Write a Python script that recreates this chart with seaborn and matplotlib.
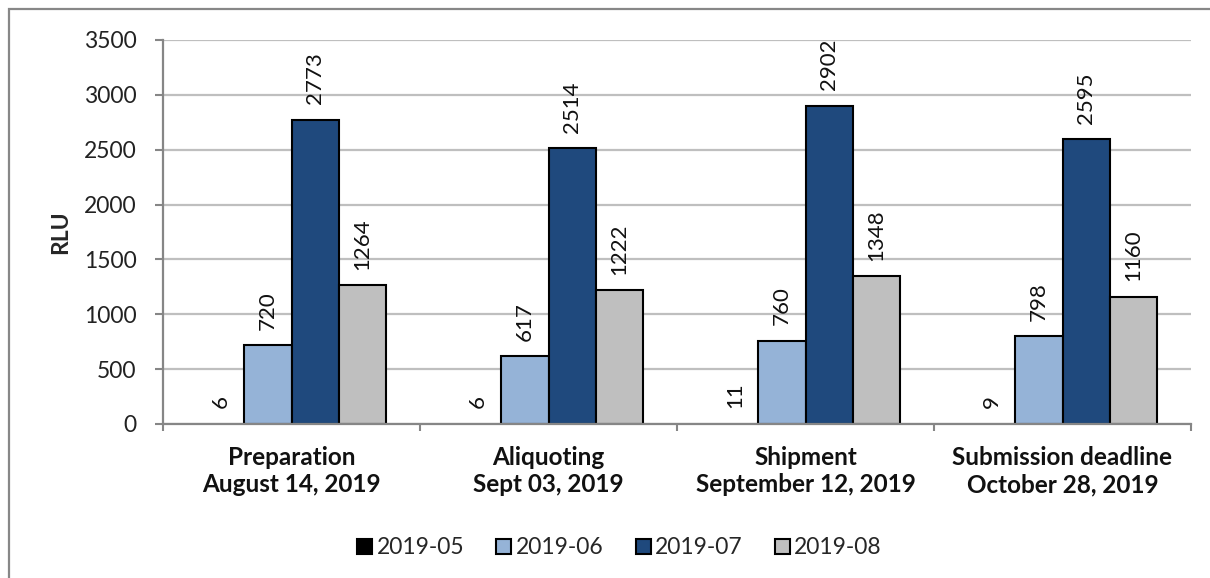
import matplotlib
matplotlib.use("Agg")
import matplotlib.pyplot as plt
import seaborn as sns
import pandas as pd
from matplotlib.patches import Rectangle

categories = ["Preparation\nAugust 14, 2019", "Aliquoting\nSept 03, 2019",
              "Shipment\nSeptember 12, 2019", "Submission deadline\nOctober 28, 2019"]
series_names = ["2019-05", "2019-06", "2019-07", "2019-08"]
v_2019_05 = [6, 6, 11, 9]
v_2019_06 = [720, 617, 760, 798]
v_2019_07 = [2773, 2514, 2902, 2595]
v_2019_08 = [1264, 1222, 1348, 1160]
y_ticks = [0, 500, 1000, 1500, 2000, 2500, 3000, 3500]
colors = ["#000000", "#95B3D7", "#1F497D", "#BFBFBF"]

rows = []
for name, vals in zip(series_names, [v_2019_05, v_2019_06, v_2019_07, v_2019_08]):
    for c, v in zip(categories, vals):
        rows.append({"category": c, "series": name, "value": v})
df = pd.DataFrame(rows)

sns.set_theme(style="white")
plt.rcParams["font.family"] = ["Lato", "DejaVu Sans"]

fig = plt.figure(figsize=(12.10, 5.78), dpi=100)
ax = fig.add_axes([163/1210, 1-424/578, (1191-163)/1210, (424-40)/578])

sns.barplot(data=df, x="category", y="value", hue="series", order=categories,
            hue_order=series_names, palette=colors, saturation=1, width=0.732, gap=0,
            edgecolor="black", linewidth=1.5, ax=ax, errorbar=None, legend=True)

for i, cont in enumerate(ax.containers):
    if i == 0:
        for b in cont:
            b.set_linewidth(0)
    ax.bar_label(cont, labels=[f"{int(round(b.get_height()))}" for b in cont],
                 rotation=90, padding=11, fontsize=16, color="#111111")

ax.set_xlim(-0.5, 3.5)
ax.set_ylim(0, 3500)
ax.set_yticks(y_ticks)
ax.set_yticklabels([str(t) for t in y_ticks], fontsize=16.5, color="#222222")
ax.set_xticks(range(len(categories)))
ax.set_xticklabels(categories, fontsize=17.5, fontweight="bold", color="#111111",
                   linespacing=1.2)
ax.set_xticks([-0.5, 0.5, 1.5, 2.5, 3.5], minor=True)
ax.tick_params(axis="x", which="major", length=0, pad=16)
ax.tick_params(axis="x", which="minor", length=5, width=1.5, color="#868686", direction="out", bottom=True)
ax.tick_params(axis="y", which="major", length=6, width=1.5, color="#868686", direction="out", left=True, pad=13)

ax.set_xlabel("")
ax.set_ylabel("RLU", fontsize=16.5, fontweight="bold", labelpad=9)
ax.yaxis.grid(True, color="#BFBFBF", linewidth=1.6)
ax.set_axisbelow(True)
for s in ["top", "right"]:
    ax.spines[s].set_visible(False)
for s in ["left", "bottom"]:
    ax.spines[s].set_color("#868686")
    ax.spines[s].set_linewidth(1.6)

handles, labels = ax.get_legend_handles_labels()
ax.get_legend().remove()
for h in handles:
    h.set_edgecolor("black")
    h.set_linewidth(1.5)
fig.legend(handles, labels, loc="center", bbox_to_anchor=(0.512, 1-548/578), ncol=4,
           frameon=False, fontsize=16.5, handlelength=0.65, handleheight=0.65,
           handletextpad=0.2, columnspacing=1.4)

fig.patches.append(Rectangle((9/1210, -0.1), 1.2, 1-9/578+0.1, transform=fig.transFigure,
                             fill=False, edgecolor="#878787", linewidth=1.6, zorder=-1))

fig.savefig("out.png", dpi=100)
